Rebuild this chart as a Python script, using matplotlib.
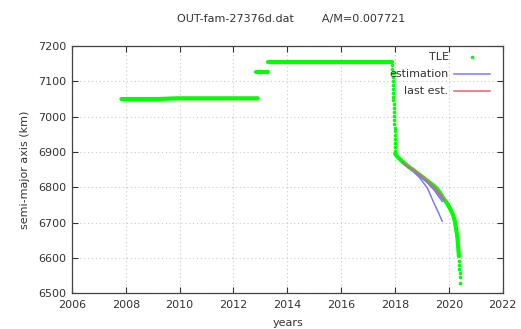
import matplotlib
matplotlib.use("Agg")
import matplotlib.pyplot as plt

# TLE semi-major axis history (year, km)
plateau1_year = [2007.84, 2008.5, 2009.2, 2009.9, 2010.6, 2011.3, 2012.0, 2012.9]
plateau1_sma = [7050, 7050, 7050, 7052, 7052, 7052, 7052, 7052]

plateau2_year = [2012.85, 2013.05, 2013.3]
plateau2_sma = [7127, 7127, 7127]

plateau3_year = [2013.3, 2014.0, 2014.8, 2015.6, 2016.4, 2017.2, 2017.9]
plateau3_sma = [7156, 7156, 7156, 7156, 7156, 7156, 7156]

drop_year = [2017.90, 2017.90, 2017.91, 2017.91, 2017.92, 2017.92, 2017.93, 2017.93,
             2017.94, 2017.94, 2017.95, 2017.95, 2017.96, 2017.96, 2017.97, 2017.97,
             2017.98, 2017.98, 2017.99, 2017.99, 2018.0, 2018.0, 2018.0]
drop_sma = [7145, 7134, 7123, 7112, 7101, 7090, 7079, 7068, 7057, 7046, 7035, 7024,
            7013, 7002, 6991, 6980, 6969, 6958, 6947, 6936, 6925, 6914, 6903]

decay_year = [2018.0, 2018.05, 2018.12, 2018.2, 2018.33, 2018.5, 2018.65, 2018.83,
              2019.0, 2019.15, 2019.32, 2019.5, 2019.65, 2019.81, 2019.95, 2020.06,
              2020.14, 2020.21, 2020.26, 2020.31, 2020.34, 2020.37]
decay_sma = [6895, 6890, 6884, 6878, 6869, 6858, 6850, 6840, 6830, 6821, 6811, 6800,
             6786, 6767, 6752, 6737, 6724, 6708, 6685, 6661, 6635, 6605]

tail_year = [2020.38, 2020.38, 2020.39, 2020.40, 2020.41, 2020.42]
tail_sma = [6592, 6580, 6568, 6558, 6545, 6530]

# Orbit-decay estimations
est_years = [
    [2018.27, 2018.6, 2018.9, 2019.2, 2019.44, 2019.6, 2019.75],
    [2018.27, 2018.6, 2018.9, 2019.2, 2019.5, 2019.8],
    [2018.27, 2018.7, 2019.1, 2019.45, 2019.75],
]
est_sma = [
    [6870, 6851, 6828, 6798, 6756, 6730, 6704],
    [6870, 6853, 6834, 6813, 6790, 6764],
    [6870, 6847, 6822, 6792, 6760],
]
last_year = [2018.3, 2018.7, 2019.1, 2019.5, 2019.85]
last_sma = [6868, 6849, 6825, 6797, 6765]

xticks = [2006, 2008, 2010, 2012, 2014, 2016, 2018, 2020, 2022]
yticks = [6500, 6600, 6700, 6800, 6900, 7000, 7100, 7200]

GREEN = "#00ff00"
BLUE = "#7b7bf0"
RED = "#e8606e"
TXT = "#333333"

fig = plt.figure(figsize=(5.21, 3.29), dpi=100)
ax = fig.add_axes([0.138, 0.109, 0.827, 0.751])

for yr, sm in [(plateau1_year, plateau1_sma), (plateau2_year, plateau2_sma),
               (plateau3_year, plateau3_sma), (decay_year, decay_sma)]:
    ax.plot(yr, sm, color=GREEN, lw=3.0, solid_capstyle="round", zorder=3)
ax.plot(drop_year, drop_sma, "o", color=GREEN, ms=2.6, mew=0, zorder=3)
ax.plot(tail_year, tail_sma, "o", color=GREEN, ms=2.6, mew=0, zorder=3)
ax.plot([], [], "o", color=GREEN, ms=2.6, mew=0, label="TLE")

for i, (yr, sm) in enumerate(zip(est_years, est_sma)):
    ax.plot(yr, sm, color=BLUE, lw=1.1, zorder=4,
            label="estimation" if i == 0 else None)
ax.plot(last_year, last_sma, color=RED, lw=1.1, zorder=4, label="last est.")

ax.set_xlim(2006, 2022)
ax.set_ylim(6500, 7200)
ax.set_xticks(xticks)
ax.set_yticks(yticks)
ax.tick_params(direction="in", length=4, width=0.8, top=True, right=True,
               labelsize=8, colors=TXT, pad=5)
ax.tick_params(axis="y", pad=4)
for s in ax.spines.values():
    s.set_color("#444444")
    s.set_linewidth(0.9)
ax.grid(True, linestyle=(0, (1, 2.5)), color="#c8c8c8", linewidth=0.8)
ax.set_axisbelow(True)

ax.set_ylabel("semi-major axis (km)", fontsize=8, color=TXT, labelpad=6)
fig.text(0.553, 0.004, "years", fontsize=8, color=TXT, ha="center", va="bottom")
fig.text(0.558, 0.942, "OUT-fam-27376d.dat        A/M=0.007721", fontsize=8,
         color=TXT, ha="center", va="center")

leg = ax.legend(loc="upper right", bbox_to_anchor=(0.970, 0.974), frameon=False,
                markerfirst=False, fontsize=8, handlelength=3.2,
                handletextpad=0.5, labelspacing=0.63, borderpad=0,
                borderaxespad=0, numpoints=1)
for t in leg.get_texts():
    t.set_color(TXT)

fig.savefig("out.png", dpi=100)
